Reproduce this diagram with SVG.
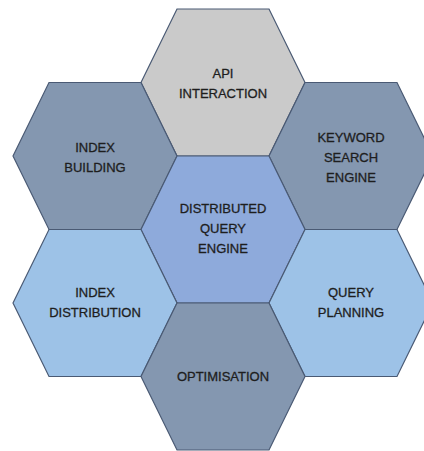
<svg xmlns="http://www.w3.org/2000/svg" width="424" height="451" viewBox="0 0 424 451">
<defs>
<style>
.hex{stroke:#4a5a74;stroke-width:1.2;stroke-linejoin:miter}
.gray{fill:#cacaca}
.slate{fill:#8497b0}
.mid{fill:#8eaadb}
.light{fill:#9dc2e7}
text{font-family:"Liberation Sans",Arial,sans-serif;font-size:13px;fill:#1e1e1e;stroke:#1e1e1e;stroke-width:0.3;text-anchor:middle}
</style>
<polygon id="hexshape" points="-46,-73.5 46,-73.5 82,0 46,73.5 -46,73.5 -82,0"/>
</defs>
<rect width="424" height="451" fill="#ffffff"/>
<g id="connectors"></g>
<g id="api">
<use href="#hexshape" class="hex gray" transform="translate(223,82.5)"/>
<text x="223" y="78">API</text>
<text x="223" y="98">INTERACTION</text>
</g>
<g id="index-building">
<use href="#hexshape" class="hex slate" transform="translate(95,156)"/>
<text x="95" y="152">INDEX</text>
<text x="95" y="172">BUILDING</text>
</g>
<g id="keyword-search">
<use href="#hexshape" class="hex slate" transform="translate(351,156)"/>
<text x="351" y="142">KEYWORD</text>
<text x="351" y="162">SEARCH</text>
<text x="351" y="182">ENGINE</text>
</g>
<g id="distributed-query">
<use href="#hexshape" class="hex mid" transform="translate(223,229.5)"/>
<text x="223" y="213">DISTRIBUTED</text>
<text x="223" y="233">QUERY</text>
<text x="223" y="253">ENGINE</text>
</g>
<g id="index-distribution">
<use href="#hexshape" class="hex light" transform="translate(95,303)"/>
<text x="95" y="297">INDEX</text>
<text x="95" y="317">DISTRIBUTION</text>
</g>
<g id="query-planning">
<use href="#hexshape" class="hex light" transform="translate(351,303)"/>
<text x="351" y="297">QUERY</text>
<text x="351" y="317">PLANNING</text>
</g>
<g id="optimisation">
<use href="#hexshape" class="hex slate" transform="translate(223,376.5)"/>
<text x="223" y="381">OPTIMISATION</text>
</g>
</svg>
